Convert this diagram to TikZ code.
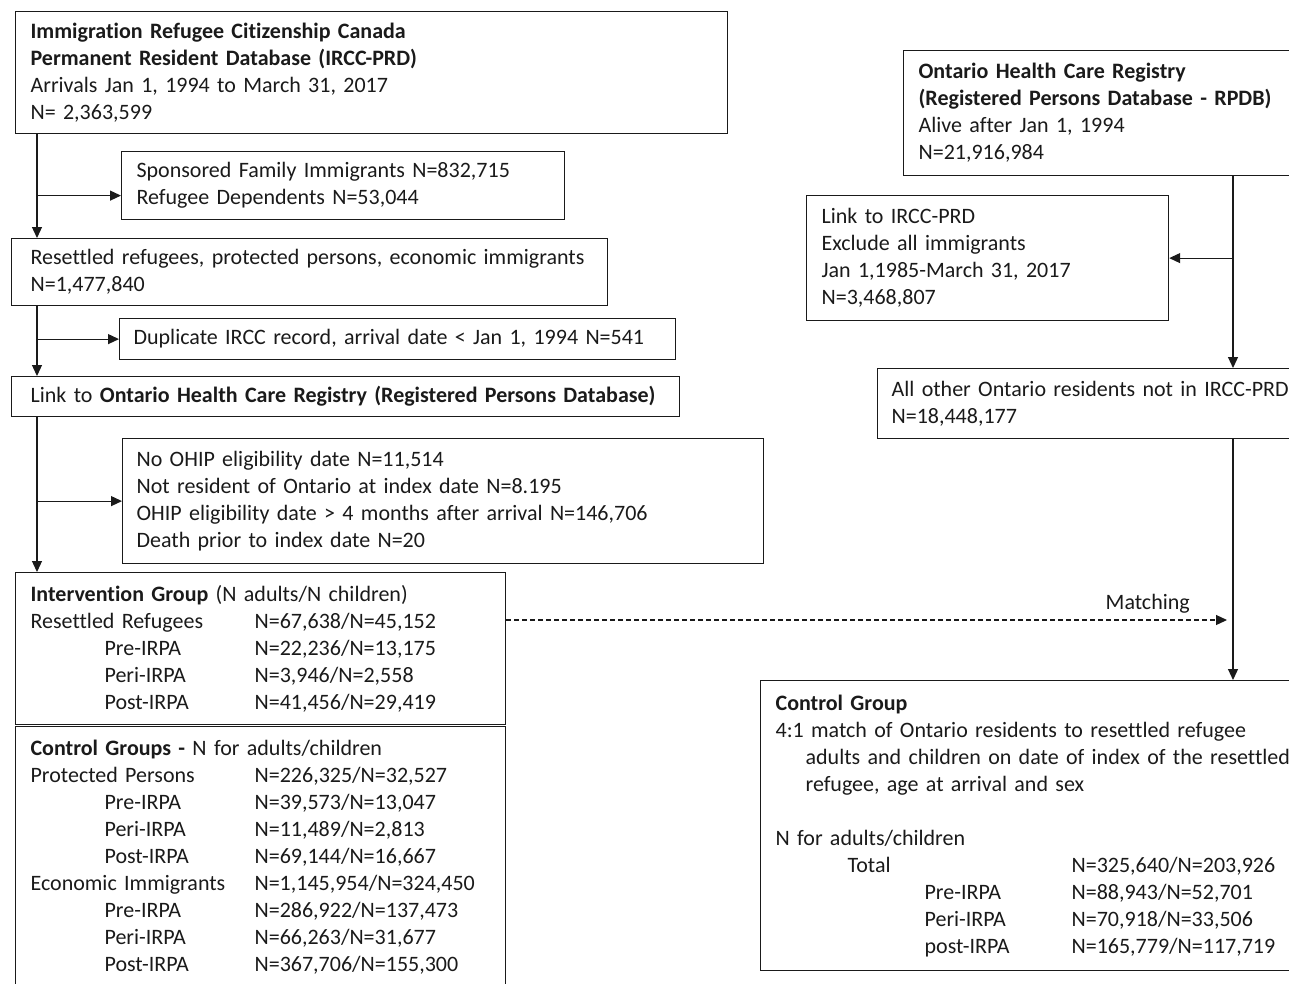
\documentclass[tikz,border=0pt]{standalone}
\usepackage{fontspec}
\setmainfont[Ligatures=NoCommon]{Carlito}
\usepackage{tikz}
\usetikzlibrary{arrows.meta,positioning,calc}
\definecolor{FlowInk}{HTML}{1A1A1A}
\newcommand{\colentry}[3]{\makebox[#1][l]{#2}#3}

\begin{document}
\begin{tikzpicture}[x=1pt, y=-1pt,
  box/.style={draw=FlowInk, line width=1.2pt, anchor=north west, align=left,
    inner xsep=15pt, inner ysep=0pt, text=FlowInk,
    font={\fontsize{22}{27}\selectfont}},
  lbl/.style={text=FlowInk, font={\fontsize{22}{27}\selectfont}},
  flow/.style={-{Triangle[length=11pt,width=10pt]}, FlowInk, line width=1.2pt}]
  \useasboundingbox (0,0) rectangle (1289,983);
  \clip (0,0) rectangle (1289,983);

  % left column
  \node[box, text width=682pt, minimum height=122pt] (ircc) at (15,11)
    {\textbf{Immigration Refugee Citizenship Canada}\\
     \textbf{Permanent Resident Database (IRCC-PRD)}\\
     Arrivals Jan 1, 1994 to March 31, 2017\\
     N= 2,363,599};
  \node[box, text width=413pt, minimum height=68pt] (sponsored) at (121,151)
    {\mbox{Sponsored Family Immigrants N=832,715}\\
     Refugee Dependents N=53,044};
  \node[box, inner xsep=19pt, text width=558pt, minimum height=67pt] (resettled) at (11,238)
    {\mbox{Resettled refugees, protected persons, economic immigrants}\\
     N=1,477,840};
  \node[box, inner xsep=14pt, text width=528pt, minimum height=41pt] (duplicate) at (119,318)
    {\mbox{Duplicate IRCC record, arrival date < Jan 1, 1994 N=541}};
  \node[box, inner xsep=19pt, text width=630pt, minimum height=40pt] (link) at (11,376)
    {\mbox{Link to \textbf{Ontario Health Care Registry (Registered Persons Database)}}};
  \node[box, inner xsep=14pt, text width=613pt, minimum height=125pt] (noohip) at (122,438)
    {No OHIP eligibility date N=11,514\\
     Not resident of Ontario at index date N=8.195\\
     \mbox{OHIP eligibility date > 4 months after arrival N=146,706}\\
     Death prior to index date N=20};
  \node[box, text width=460pt, minimum height=152pt] (interv) at (15,572)
    {\textbf{Intervention Group} (N adults/N children)\\
     \colentry{224pt}{Resettled Refugees}{N=67,638/N=45,152}\\
     \colentry{224pt}{\hspace*{74pt}Pre-IRPA}{N=22,236/N=13,175}\\
     \colentry{224pt}{\hspace*{74pt}Peri-IRPA}{N=3,946/N=2,558}\\
     \colentry{224pt}{\hspace*{74pt}Post-IRPA}{N=41,456/N=29,419}};
  \node[box, text width=460pt, minimum height=262pt] (ctrlgrps) at (15,726)
    {\textbf{Control Groups -} N for adults/children\\
     \colentry{224pt}{Protected Persons}{N=226,325/N=32,527}\\
     \colentry{224pt}{\hspace*{74pt}Pre-IRPA}{N=39,573/N=13,047}\\
     \colentry{224pt}{\hspace*{74pt}Peri-IRPA}{N=11,489/N=2,813}\\
     \colentry{224pt}{\hspace*{74pt}Post-IRPA}{N=69,144/N=16,667}\\
     \colentry{224pt}{Economic Immigrants}{N=1,145,954/N=324,450}\\
     \colentry{224pt}{\hspace*{74pt}Pre-IRPA}{N=286,922/N=137,473}\\
     \colentry{224pt}{\hspace*{74pt}Peri-IRPA}{N=66,263/N=31,677}\\
     \colentry{224pt}{\hspace*{74pt}Post-IRPA}{N=367,706/N=155,300}};

  % right column
  \node[box, text width=420pt, minimum height=125pt] (hcr) at (903,50)
    {\textbf{Ontario Health Care Registry}\\
     \textbf{(Registered Persons Database - RPDB)}\\
     Alive after Jan 1, 1994\\
     N=21,916,984};
  \node[box, text width=332pt, minimum height=125pt] (linkircc) at (806,195)
    {Link to IRCC-PRD\\
     Exclude all immigrants\\
     Jan 1,1985-March 31, 2017\\
     N=3,468,807};
  \node[box, inner xsep=14pt, text width=440pt, minimum height=70pt] (others) at (877,368)
    {\mbox{All other Ontario residents not in IRCC-PRD}\\
     N=18,448,177};
  \node[box, text width=560pt, minimum height=290pt] (ctrl) at (760,680)
    {\textbf{Control Group}\\
     \mbox{4:1 match of Ontario residents to resettled refugee}\\
     \mbox{\hspace*{30pt}adults and children on date of index of the resettled}\\
     \hspace*{30pt}refugee, age at arrival and sex\\[27pt]
     N for adults/children\\
     \colentry{296pt}{\hspace*{72pt}Total}{N=325,640/N=203,926}\\
     \colentry{296pt}{\hspace*{149pt}Pre-IRPA}{N=88,943/N=52,701}\\
     \colentry{296pt}{\hspace*{149pt}Peri-IRPA}{N=70,918/N=33,506}\\
     \colentry{296pt}{\hspace*{149pt}post-IRPA}{N=165,779/N=117,719}};

  % connectors
  \coordinate (lspine) at (37,0);
  \coordinate (rspine) at (1233,0);
  \coordinate (matchend) at (1227,620);
  \coordinate (sponsin) at ($(sponsored.west)+(0,10)$);
  \draw[flow] (ircc.south -| lspine) -- (resettled.north -| lspine);
  \draw[flow] (sponsin -| lspine) -- (sponsin);
  \draw[flow] (resettled.south -| lspine) -- (link.north -| lspine);
  \draw[flow] (duplicate.west -| lspine) -- (duplicate.west);
  \draw[flow] (link.south -| lspine) -- (interv.north -| lspine);
  \draw[flow] (noohip.west -| lspine) -- (noohip.west);
  \draw[flow] (hcr.south -| rspine) -- (others.north -| rspine);
  \draw[flow] (linkircc.east -| rspine) -- (linkircc.east);
  \draw[flow] (others.south -| rspine) -- (ctrl.north -| rspine);
  \draw[flow, dash pattern=on 5pt off 3pt] (interv.east |- matchend) -- (matchend)
    node[lbl, pos=0.89, above=3pt] (matchlbl) {Matching};
\end{tikzpicture}
\end{document}
